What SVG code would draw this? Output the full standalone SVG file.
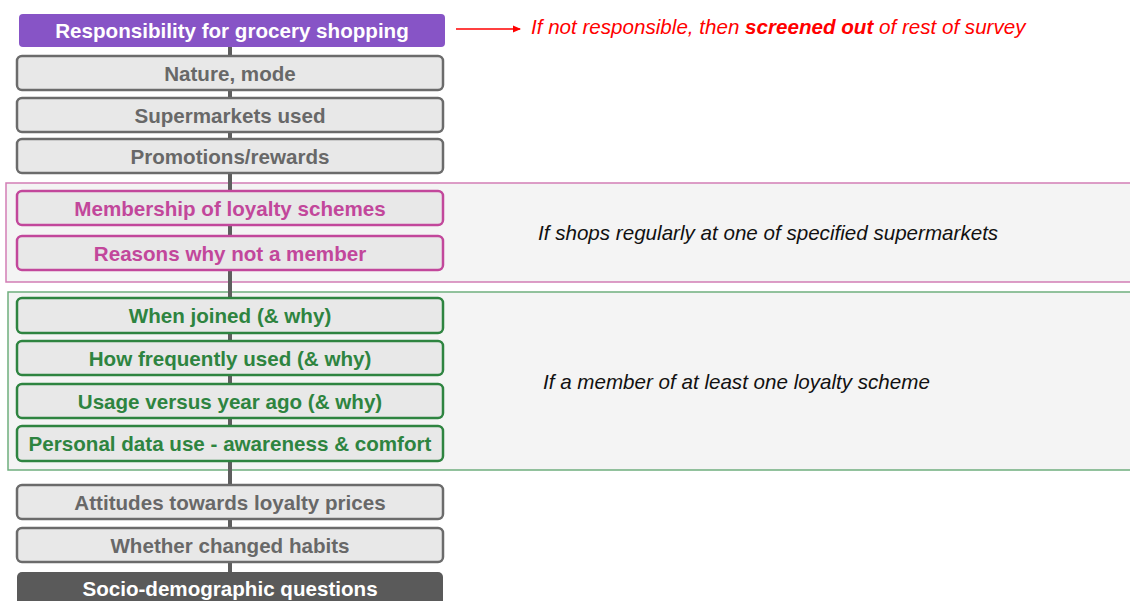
<svg xmlns="http://www.w3.org/2000/svg" width="1130" height="601" viewBox="0 0 1130 601">
  <defs>
    <marker id="redArrow" markerWidth="8" markerHeight="8" refX="7" refY="4" orient="auto" markerUnits="userSpaceOnUse">
      <path d="M0,0.5 L8,4 L0,7.5 Z" fill="#FF0000"/>
    </marker>
    <style>
      text { font-family: "Liberation Sans", Arial, sans-serif; }
      .lbl { font-size: 20.6px; font-weight: bold; text-anchor: middle; }
      .box-grey { fill: #E8E8E8; stroke: #6B6B6B; stroke-width: 2.5; }
      .box-pink { fill: #E8E8E8; stroke: #C2479B; stroke-width: 2.5; }
      .box-green { fill: #E8E8E8; stroke: #2E8440; stroke-width: 2.5; }
      .t-grey { fill: #686868; }
      .t-pink { fill: #C2479B; }
      .t-green { fill: #2E8440; }
      .band { fill: #F4F4F4; stroke-width: 1.5; }
      .note { font-size: 20.6px; font-style: italic; fill: #111111; }
    </style>
  </defs>

  <rect width="1130" height="601" fill="#FFFFFF"/>

  <!-- condition bands -->
  <g id="band-supermarkets">
    <rect class="band" x="6" y="183" width="1130" height="99" stroke="#D27DB5"/>
    <text class="note" x="538" y="240">If shops regularly at one of specified supermarkets</text>
  </g>
  <g id="band-members">
    <rect class="band" x="8" y="292" width="1130" height="178" stroke="#6FAE7E"/>
    <text class="note" x="543" y="389">If a member of at least one loyalty scheme</text>
  </g>

  <!-- spine connecting the question blocks -->
  <g id="connectors">
    <line x1="230" y1="46" x2="230" y2="575" stroke="#5E5E5E" stroke-width="4"/>
    <line x1="456" y1="29" x2="520" y2="29" stroke="#FF0000" stroke-width="1.3" marker-end="url(#redArrow)"/>
  </g>

  <g id="n-responsibility">
    <rect x="19" y="14" width="426" height="33" rx="4" fill="#8754C6"/>
    <text class="lbl" x="232" y="38" fill="#FFFFFF">Responsibility for grocery shopping</text>
  </g>
  <g id="n-screen-note">
    <text x="531" y="34" font-size="20.6" font-style="italic" fill="#FF0000">If not responsible, then <tspan font-weight="bold">screened out</tspan> of rest of survey</text>
  </g>

  <g id="n-nature">
    <rect class="box-grey" x="17" y="56" width="426" height="34" rx="5"/>
    <text class="lbl t-grey" x="230" y="80.5">Nature, mode</text>
  </g>
  <g id="n-supermarkets">
    <rect class="box-grey" x="17" y="98" width="426" height="34" rx="5"/>
    <text class="lbl t-grey" x="230" y="122.5">Supermarkets used</text>
  </g>
  <g id="n-promotions">
    <rect class="box-grey" x="17" y="139" width="426" height="34" rx="5"/>
    <text class="lbl t-grey" x="230" y="163.5">Promotions/rewards</text>
  </g>

  <g id="n-membership">
    <rect class="box-pink" x="17" y="191" width="426" height="34" rx="5"/>
    <text class="lbl t-pink" x="230" y="215.5">Membership of loyalty schemes</text>
  </g>
  <g id="n-reasons">
    <rect class="box-pink" x="17" y="236" width="426" height="34" rx="5"/>
    <text class="lbl t-pink" x="230" y="260.5">Reasons why not a member</text>
  </g>

  <g id="n-joined">
    <rect class="box-green" x="17" y="298" width="426" height="35" rx="5"/>
    <text class="lbl t-green" x="230" y="322.5">When joined (&amp; why)</text>
  </g>
  <g id="n-frequency">
    <rect class="box-green" x="17" y="341" width="426" height="34" rx="5"/>
    <text class="lbl t-green" x="230" y="365.5">How frequently used (&amp; why)</text>
  </g>
  <g id="n-usage">
    <rect class="box-green" x="17" y="384" width="426" height="34" rx="5"/>
    <text class="lbl t-green" x="230" y="408.5">Usage versus year ago (&amp; why)</text>
  </g>
  <g id="n-personal-data">
    <rect class="box-green" x="17" y="426" width="426" height="35" rx="5"/>
    <text class="lbl t-green" x="230" y="450.5">Personal data use - awareness &amp; comfort</text>
  </g>

  <g id="n-attitudes">
    <rect class="box-grey" x="17" y="485" width="426" height="34" rx="5"/>
    <text class="lbl t-grey" x="230" y="509.5">Attitudes towards loyalty prices</text>
  </g>
  <g id="n-habits">
    <rect class="box-grey" x="17" y="528" width="426" height="34" rx="5"/>
    <text class="lbl t-grey" x="230" y="552.5">Whether changed habits</text>
  </g>
  <g id="n-socio">
    <rect x="17" y="572" width="426" height="40" rx="5" fill="#5A5A5A"/>
    <text class="lbl" x="230" y="595.5" fill="#FFFFFF">Socio-demographic questions</text>
  </g>
</svg>
